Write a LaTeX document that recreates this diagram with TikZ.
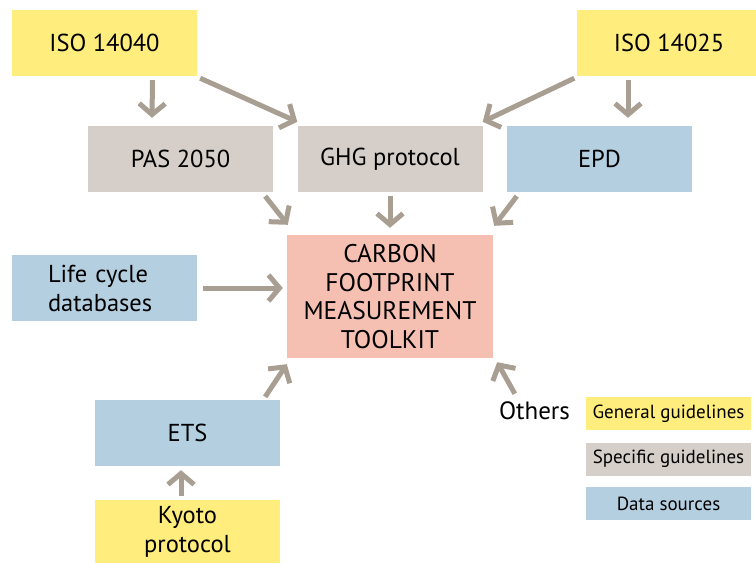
\documentclass[tikz,border=0pt]{standalone}
\usepackage{fontspec}
\setmainfont{PT Sans}
\usetikzlibrary{arrows.meta,calc}
\definecolor{gyellow}{HTML}{FFED7D}
\definecolor{sgray}{HTML}{D6CFC9}
\definecolor{dblue}{HTML}{B4CFE0}
\definecolor{cpink}{HTML}{F5BFB2}
\definecolor{arr}{HTML}{A89F92}
\tikzset{
  box/.style={rectangle, inner sep=0pt, minimum width=185pt, minimum height=66pt,
    align=center, font=\fontsize{24.5}{29}\selectfont},
  general/.style={box, fill=gyellow},
  specific/.style={box, fill=sgray},
  datasrc/.style={box, fill=dblue},
  legend/.style={rectangle, inner sep=0pt, minimum width=165pt, minimum height=33pt,
    font=\fontsize{19}{22}\selectfont},
  flow/.style={draw=arr, line width=5pt,
    -{Straight Barb[length=11pt,width=26pt]}},
}
\begin{document}
\begin{tikzpicture}[x=1pt,y=-1pt]
\useasboundingbox (0,0) rectangle (756,563);

% guideline and data-source boxes
\node[general]  (iso40) at (104.5,43) {ISO 14040};
\node[general]  (iso25) at (669,43) {ISO 14025};
\node[specific] (pas)   at (180.5,159) {PAS 2050};
\node[specific] (ghg)   at (390,159) {GHG protocol};
\node[datasrc]  (epd)   at (599.5,159) {EPD};
\node[rectangle, fill=cpink, inner sep=0pt, minimum width=206pt, minimum height=123pt,
      align=center, font=\fontsize{25.5}{28.5}\selectfont]
      (cfmt) at (390,296.5) {CARBON\\FOOTPRINT\\MEASUREMENT\\TOOLKIT};
\node[datasrc, align=left, text width=113pt] (lcd) at (104.5,288) {Life cycle\\databases};
\node[datasrc]  (ets)   at (187.5,433) {ETS};
\node[general, minimum height=63pt] (kyoto) at (187.5,531.5) {Kyoto\\protocol};
\node[font=\fontsize{25}{29}\selectfont, inner sep=0pt] (others) at (534.5,411) {Others};

% legend
\node[legend, fill=gyellow] (lg1) at (668.5,413.5) {General guidelines};
\node[legend, fill=sgray]   (lg2) at (668.5,459) {Specific guidelines};
\node[legend, fill=dblue]   (lg3) at (668.5,503.5) {Data sources};

% connectors
\draw[flow] ($(iso40.south)+(48,4)$) -- ($(pas.north)+(-28.5,-8)$);
\draw[flow] ($(iso40.south east)+(3,2)$) -- ($(ghg.north west)+(0,-4)$);
\draw[flow] ($(iso25.south west)+(-2,2)$) -- ($(ghg.north east)+(0,-4)$);
\draw[flow] ($(iso25.south)+(-41,4)$) -- ($(epd.north)+(28.5,-8)$);
\draw[flow] ($(pas.south east)+(-8,4)$) -- ($(cfmt.north west)+(1,-10)$);
\draw[flow] ($(ghg.south)+(0,4)$) -- ($(cfmt.north)+(0,-7)$);
\draw[flow] ($(epd.south west)+(10,4)$) -- ($(cfmt.north east)+(1,-9)$);
\draw[flow] ($(lcd.east)+(6,0)$) -- ($(cfmt.west)+(-4,-8.5)$);
\draw[flow] ($(ets.north east)+(-15,-3)$) -- ($(cfmt.south west)+(0,6)$);
\draw[flow] ($(kyoto.north)+(-6.5,-4)$) -- ($(ets.south)+(-6.5,4)$);
\draw[flow] ($(others.north west)+(16,-8)$) -- ($(cfmt.south east)+(4,4)$);
\end{tikzpicture}
\end{document}
